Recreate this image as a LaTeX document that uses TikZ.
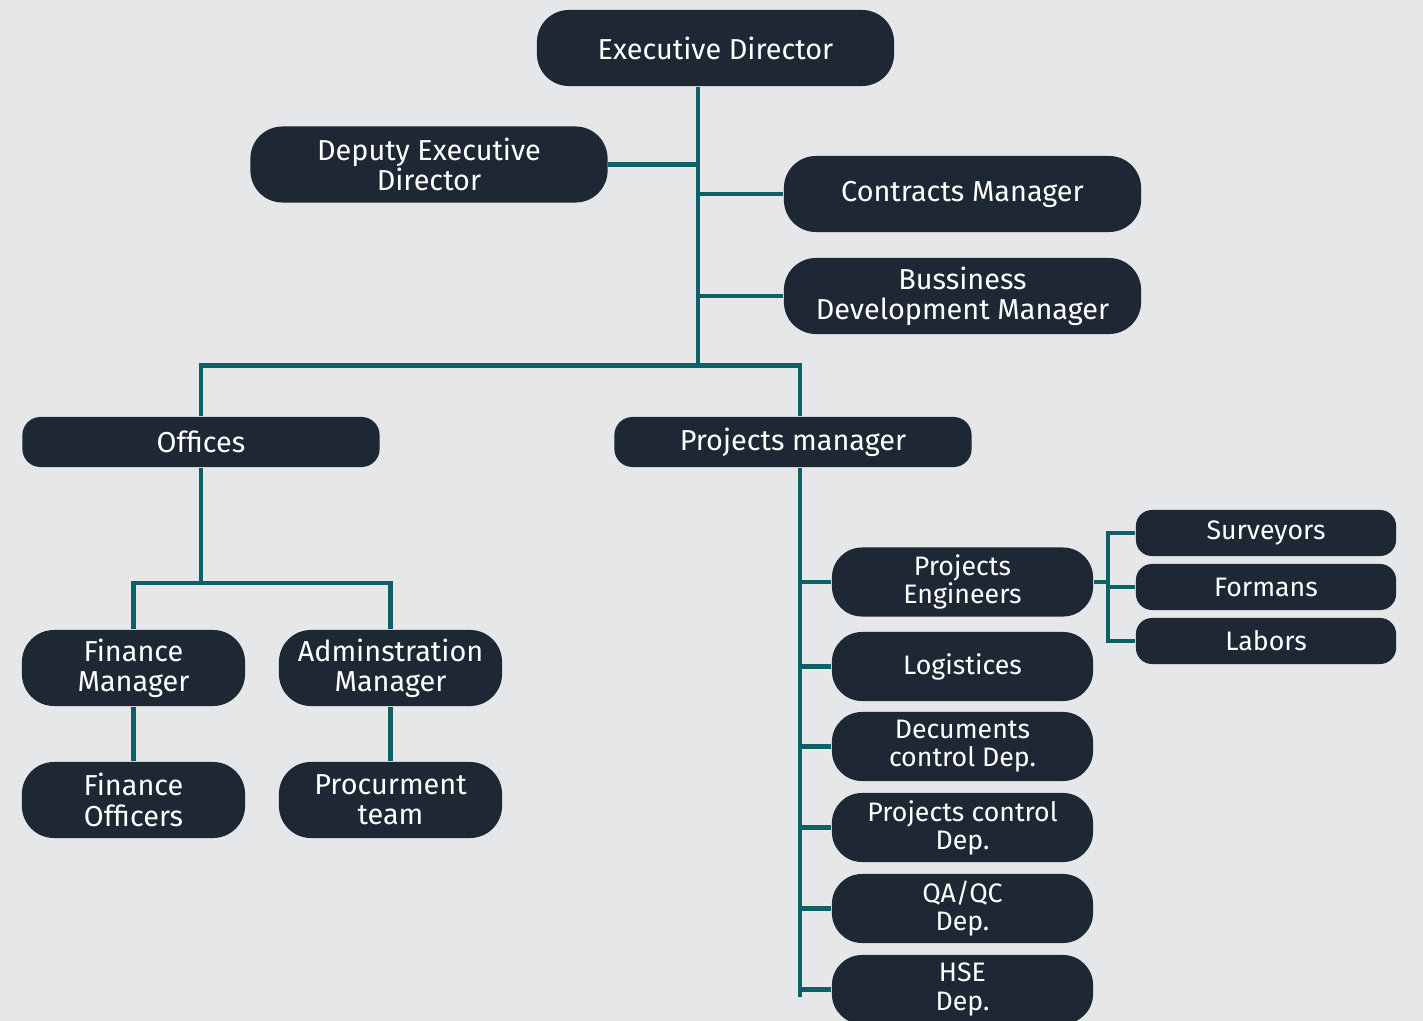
\documentclass[tikz,border=0pt]{standalone}
\usepackage{fontspec}
\setmainfont{Fira Sans}
\definecolor{bgcol}{HTML}{E6E7E9}
\definecolor{boxcol}{HTML}{1E2834}
\definecolor{linkcol}{HTML}{0E6066}

\begin{document}
\begin{tikzpicture}[x=0.01cm,y=-0.01cm]
\tikzstyle{every node}+=[inner sep=0pt]
\tikzstyle{unit}=[fill=boxcol, text=white, align=center, rounded corners=0.32cm, minimum width=3.57cm, minimum height=0.76cm, font=\fontsize{8.2}{8.6}\selectfont]
\tikzstyle{flat}=[unit, minimum height=0.5cm, rounded corners=0.18cm]
\tikzstyle{half}=[unit, minimum width=2.23cm]
\tikzstyle{dept}=[unit, minimum width=2.61cm, minimum height=0.69cm, rounded corners=0.3cm, font=\fontsize{7.6}{8}\selectfont]
\tikzstyle{crew}=[dept, minimum width=2.6cm, minimum height=0.46cm, rounded corners=0.16cm]
\tikzstyle{link}=[draw=linkcol, line width=1.3pt]
\useasboundingbox (0,0) rectangle (1423,1021);
\fill [bgcol] (0,0) rectangle (1423,1021);
\node [unit] (exec) at (715.5,48) {Executive Director};
\node [unit] (deputy) at (429,164.5) {Deputy Executive\\Director};
\node [unit] (contracts) at (962.5,194) {Contracts Manager};
\node [unit] (business) at (962.5,296) {Bussiness\\Development Manager};
\node [flat] (offices) at (201,442) {Offices};
\node [flat] (projects) at (793,442) {Projects manager};
\node [half] (finance) at (133.5,668) {Finance\\Manager};
\node [half] (admin) at (390.5,668) {Adminstration\\Manager};
\node [half] (officers) at (133.5,800) {Finance\\Officers};
\node [half] (procure) at (390.5,800) {Procurment\\team};
\node [dept] (eng) at (962.5,582) {Projects\\Engineers};
\node [dept] (logistics) at (962.5,666.5) {Logistices};
\node [dept] (documents) at (962.5,746.5) {Decuments\\control Dep.};
\node [dept] (control) at (962.5,827.5) {Projects control\\Dep.};
\node [dept] (qaqc) at (962.5,908.5) {QA/QC\\Dep.};
\node [dept] (hse) at (962.5,989.5) {HSE\\Dep.};
\node [crew] (surveyors) at (1266,533) {Surveyors};
\node [crew] (formans) at (1266,587) {Formans};
\node [crew] (labors) at (1266,641) {Labors};
\coordinate (trunk) at (698,366);
\coordinate (offhub) at (199,583);
\coordinate (spine) at (800,997);
\coordinate (crewbus) at (1108,588);
\draw [link] (exec.south -| trunk) -- (trunk);
\draw [link] (deputy.east) -- (deputy.east -| trunk);
\draw [link] (contracts.west) -- (contracts.west -| trunk);
\draw [link] (business.west) -- (business.west -| trunk);
\draw [link] (offices.north) -- ++(0,-51) -| (projects.north -| spine);
\draw [link] (offices.south) -- (offices.south |- offhub);
\draw [link] (finance.north) |- (offhub) -| (admin.north);
\draw [link] (finance) -- (officers);
\draw [link] (admin) -- (procure);
\draw [link] (projects.south -| spine) -- (spine);
\foreach \d in {eng,logistics,documents,control,qaqc,hse}
  \draw [link] (\d.west) -- (\d.west -| spine);
\draw [link] (eng.east) -- (eng.east -| crewbus);
\draw [link] (surveyors.west) -| (crewbus |- labors.west) -- (labors.west);
\draw [link] (formans.west) -- (formans.west -| crewbus);
\end{tikzpicture}
\end{document}
